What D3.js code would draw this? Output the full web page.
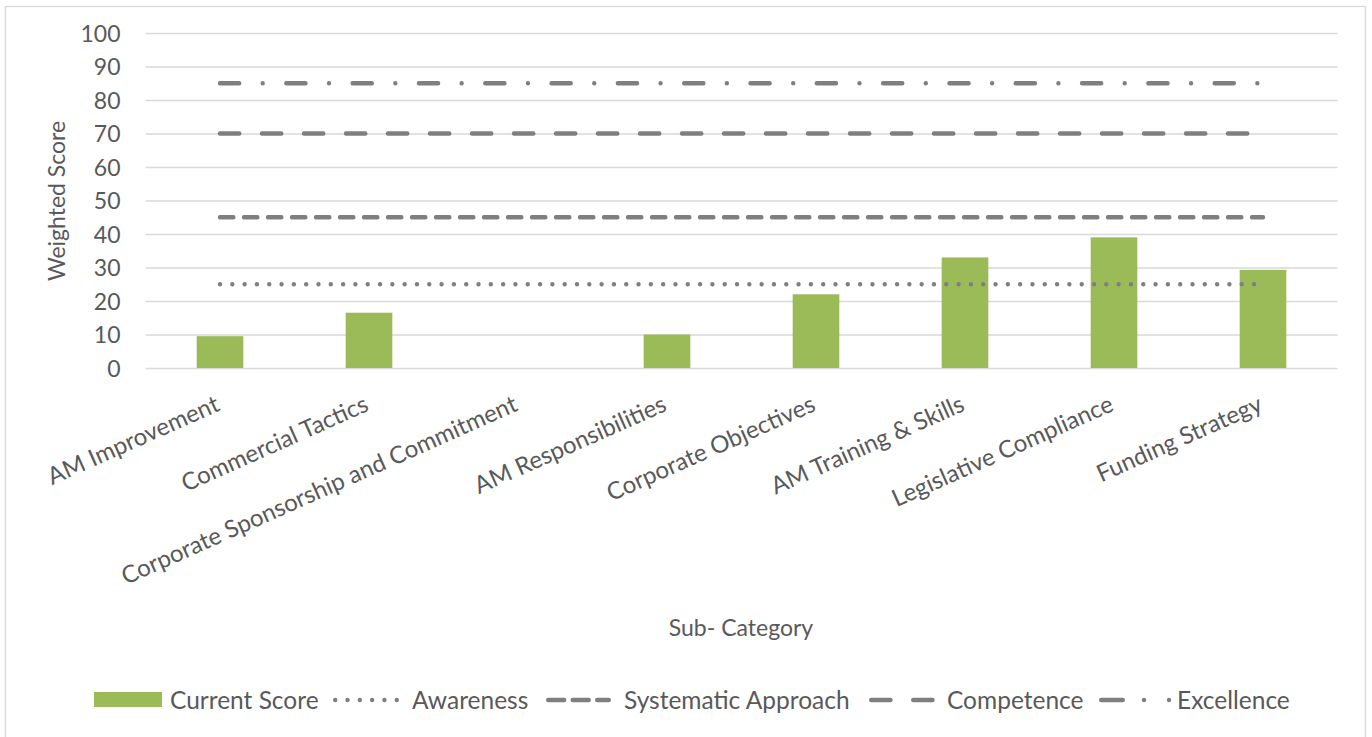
<!DOCTYPE html>
<html>
<head>
<meta charset="utf-8">
<script src="https://cdn.jsdelivr.net/npm/d3@7"></script>
<style>
  body { margin: 0; background: #fff; }
  svg text { font-family: Lato, "Open Sans", "Noto Sans", sans-serif; fill: #595959; }
</style>
</head>
<body>
<svg id="chart" width="1372" height="737"></svg>
<script>
// Sub-categories along the x axis
const categories = [
  "AM Improvement",
  "Commercial Tactics",
  "Corporate Sponsorship and Commitment",
  "AM Responsibilities",
  "Corporate Objectives",
  "AM Training & Skills",
  "Legislative Compliance",
  "Funding Strategy"
];

// Current weighted score per sub-category
const currentScore = [9.5, 16.5, 0, 10, 22, 33, 39, 29.3];

// Maturity thresholds
const awareness          = [25, 25, 25, 25, 25, 25, 25, 25];
const systematicApproach = [45, 45, 45, 45, 45, 45, 45, 45];
const competence         = [70, 70, 70, 70, 70, 70, 70, 70];
const excellence         = [85, 85, 85, 85, 85, 85, 85, 85];

const yTicks = [0, 10, 20, 30, 40, 50, 60, 70, 80, 90, 100];

const svg = d3.select("#chart");
const plot = { left: 145.5, right: 1337.5, top: 33, bottom: 368 };

const GRID = "#d9d9d9", LINE = "#7f7f7f", BAR = "#9bbb59";
const FONT = 23, LABEL_FONT = 24, LEGEND_FONT = 24.5;

// Chart frame
svg.append("rect")
  .attr("x", 5.5).attr("y", 6.5)
  .attr("width", 1360).attr("height", 760)
  .attr("fill", "#fff").attr("stroke", GRID).attr("stroke-width", 1.3);

const x = d3.scaleBand()
  .domain(categories)
  .range([plot.left, plot.right])
  .paddingInner(0.687)
  .paddingOuter(0.3435);

const xp = d3.scalePoint()
  .domain(categories)
  .range([plot.left, plot.right])
  .padding(0.5);

const y = d3.scaleLinear().domain([0, 100]).range([plot.bottom, plot.top]);

// Gridlines and y tick labels
const yAxis = d3.axisLeft(y).tickValues(yTicks).tickSize(-(plot.right - plot.left)).tickPadding(25);
const gy = svg.append("g").attr("transform", `translate(${plot.left},0)`).call(yAxis);
gy.select(".domain").remove();
gy.selectAll(".tick line").attr("stroke", GRID).attr("stroke-width", 1.4);
gy.selectAll(".tick text")
  .attr("font-size", FONT)
  .attr("dy", "0.36em")
  .style("font-family", "Lato, 'Open Sans', sans-serif")
  .attr("fill", "#595959");

// Bars
svg.append("g").selectAll("rect")
  .data(categories.map((c, i) => ({ c, v: currentScore[i] })))
  .join("rect")
  .attr("x", d => x(d.c))
  .attr("y", d => y(d.v))
  .attr("width", x.bandwidth())
  .attr("height", d => y(0) - y(d.v))
  .attr("fill", BAR);

// Threshold lines
const W_LINE = 4.4;
const thresholdSeries = [
  { name: "Awareness", values: awareness, dash: "0.01,12.3", legendDash: "0.01,12.3" },
  { name: "Systematic Approach", values: systematicApproach, dash: "13.4,10.6", legendDash: "16,8.5" },
  { name: "Competence", values: competence, dash: "19.3,22.7", legendDash: "19.3,22.7" },
  { name: "Excellence", values: excellence, dash: "19.2,23.5,0.01,23.6", legendDash: "21.6,21.2,0.01,25,0.01,40" }
];

const line = d3.line()
  .x((d, i) => xp(categories[i]))
  .y(d => y(d));

svg.append("g").selectAll("path")
  .data(thresholdSeries)
  .join("path")
  .attr("d", d => line(d.values))
  .attr("fill", "none")
  .attr("stroke", LINE)
  .attr("stroke-width", W_LINE)
  .attr("stroke-linecap", "round")
  .attr("stroke-dasharray", d => d.dash);

// Category labels, rotated
const ANGLE = -24;
svg.append("g").selectAll("text")
  .data(categories)
  .join("text")
  .attr("text-anchor", "end")
  .attr("font-size", LABEL_FONT)
  .attr("transform", d => `translate(${xp(d) + 1},${410}) rotate(${ANGLE})`)
  .text(d => d);

// Axis titles
svg.append("text")
  .attr("text-anchor", "middle")
  .attr("font-size", FONT)
  .attr("transform", `translate(65,201) rotate(-90)`)
  .text("Weighted Score");

svg.append("text")
  .attr("text-anchor", "middle")
  .attr("font-size", FONT)
  .attr("x", 741).attr("y", 636)
  .text("Sub- Category");

// Legend
const LY = 700;
const legendItems = [
  { name: "Current Score", type: "bar", x: 94, w: 68, tx: 170 },
  { name: thresholdSeries[0].name, type: "line", dash: thresholdSeries[0].legendDash, x: 333, w: 68, tx: 412 },
  { name: thresholdSeries[1].name, type: "line", dash: thresholdSeries[1].legendDash, x: 546, w: 65, tx: 624 },
  { name: thresholdSeries[2].name, type: "line", dash: thresholdSeries[2].legendDash, x: 869, w: 66, tx: 947 },
  { name: thresholdSeries[3].name, type: "line", dash: thresholdSeries[3].legendDash, x: 1099, w: 74, tx: 1177 }
];
const legend = svg.append("g");
legendItems.forEach(item => {
  if (item.type === "bar") {
    legend.append("rect").attr("x", item.x).attr("y", LY - 8).attr("width", item.w).attr("height", 15).attr("fill", BAR);
  } else {
    legend.append("line")
      .attr("x1", item.x + 2.2).attr("x2", item.x + item.w - 2.2).attr("y1", LY).attr("y2", LY)
      .attr("stroke", LINE).attr("stroke-width", W_LINE)
      .attr("stroke-linecap", "round")
      .attr("stroke-dasharray", item.dash);
  }
  legend.append("text")
    .attr("x", item.tx).attr("y", LY).attr("dy", "0.35em")
    .attr("font-size", LEGEND_FONT).text(item.name);
});
</script>
</body>
</html>
